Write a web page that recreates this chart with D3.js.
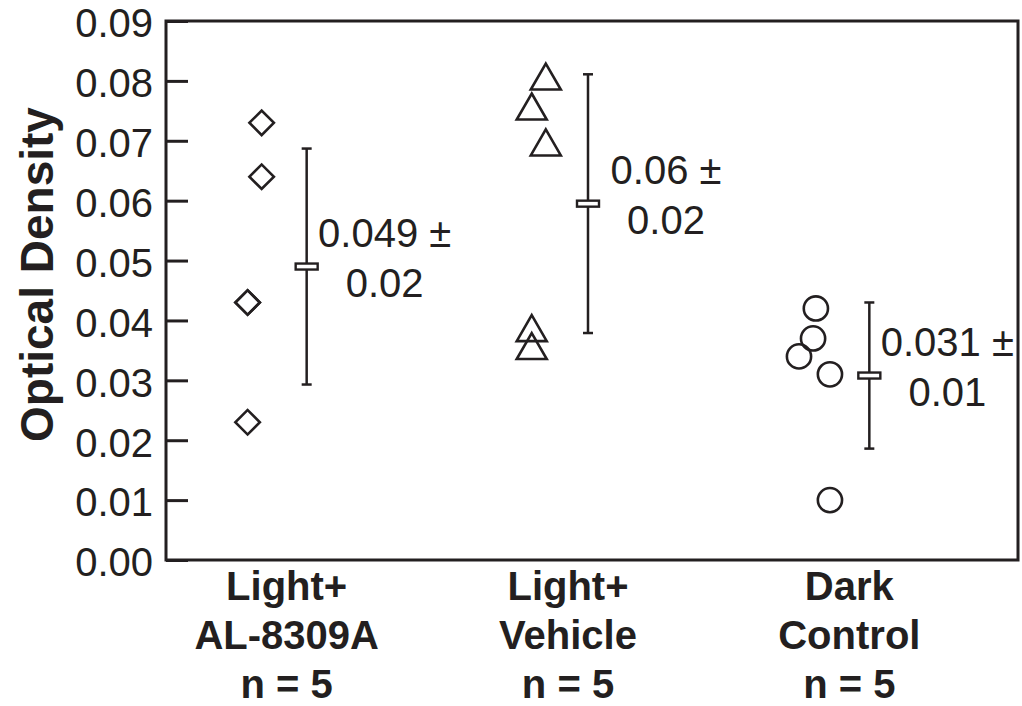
<!DOCTYPE html>
<html><head><meta charset="utf-8">
<script src="https://cdn.jsdelivr.net/npm/d3@7"></script>
<style>body{margin:0;background:#fff}svg{display:block}text{font-family:Arial,"Liberation Sans",sans-serif;fill:#231f20}</style>
</head><body><div id="chart"></div>
<script>
const groups = ["Light+ AL-8309A", "Light+ Vehicle", "Dark Control"];
const labelLines = [["Light+", "AL-8309A", "n = 5"], ["Light+", "Vehicle", "n = 5"], ["Dark", "Control", "n = 5"]];
const shapes = ["diamond", "triangle", "circle"];
const valuesAL = [0.073, 0.064, 0.043, 0.043, 0.023];
const jitterAL = [-0.16, -0.16, -0.21, -0.21, -0.21];
const valuesVeh = [0.080, 0.075, 0.069, 0.038, 0.035];
const jitterVeh = [-0.15, -0.20, -0.15, -0.20, -0.20];
const valuesDark = [0.042, 0.037, 0.034, 0.031, 0.010];
const jitterDark = [-0.19, -0.20, -0.25, -0.14, -0.14];
const means = [0.049, 0.0595, 0.0308];
const sds = [0.0197, 0.0216, 0.0122];
const meanLabels = [["0.049 \u00b1", "0.02"], ["0.06 \u00b1", "0.02"], ["0.031 \u00b1", "0.01"]];
const yTicks = [0, 0.01, 0.02, 0.03, 0.04, 0.05, 0.06, 0.07, 0.08, 0.09];
const yTitle = "Optical Density";

const W = 1022, H = 706;
const m = {left: 166, top: 21, right: 4, bottom: 146};
const pw = W - m.left - m.right, ph = H - m.top - m.bottom;
const ink = "#231f20";

const svg = d3.select("#chart").append("svg").attr("width", W).attr("height", H);
const g = svg.append("g").attr("transform", `translate(${m.left},${m.top})`);

const x = d3.scalePoint().domain(groups).range([0, pw - 8]).padding(0.5);
const step = x.step();
const y = d3.scaleLinear().domain([0, 0.09]).range([ph, 0]);

// axis
const yAxis = d3.axisLeft(y).tickValues(yTicks).tickFormat(d3.format(".2f")).tickSizeInner(-22).tickSizeOuter(0).tickPadding(13);
const ya = g.append("g").call(yAxis);
ya.select(".domain").remove();
ya.selectAll(".tick line").attr("stroke", ink).attr("stroke-width", 3);
ya.selectAll(".tick text").attr("font-size", 40).attr("y", 3).style("fill", ink);

// frame
g.append("rect").attr("x", 0).attr("y", 0).attr("width", pw).attr("height", ph)
  .attr("fill", "none").attr("stroke", ink).attr("stroke-width", 3);

// y title
svg.append("text").attr("transform", `translate(53,${m.top + ph / 2 - 16}) rotate(-90)`)
  .attr("text-anchor", "middle").attr("font-size", 46).attr("font-weight", "bold").text(yTitle);

// x labels
groups.forEach((grp, i) => {
  const t = svg.append("text").attr("text-anchor", "middle").attr("font-size", 40).attr("font-weight", "bold");
  labelLines[i].forEach((ln, j) => {
    t.append("tspan").attr("x", m.left + x(grp) - 20).attr("y", m.top + ph + 40 + j * 49).text(ln);
  });
});

// points
const sets = [[valuesAL, jitterAL], [valuesVeh, jitterVeh], [valuesDark, jitterDark]];
const symbolFor = {
  diamond: d3.symbol().type(d3.symbolSquare).size(300),
  triangle: d3.symbol().type(d3.symbolTriangle).size(390),
  circle: d3.symbol().type(d3.symbolCircle).size(460)
};
sets.forEach(([vals, jit], i) => {
  const cx = x(groups[i]);
  g.selectAll(null).data(vals.map((v, k) => ({v, j: jit[k]}))).join("path")
    .attr("d", symbolFor[shapes[i]]())
    .attr("transform", d => `translate(${cx + d.j * step},${y(d.v)})` + (shapes[i] === "diamond" ? " rotate(45)" : ""))
    .attr("fill", "none").attr("stroke", ink).attr("stroke-width", 2.6);
});

// error bars
groups.forEach((grp, i) => {
  const cx = x(grp);
  const top = y(means[i] + sds[i]), bot = y(means[i] - sds[i]), my = y(means[i]);
  g.append("line").attr("x1", cx).attr("x2", cx).attr("y1", top).attr("y2", bot).attr("stroke", ink).attr("stroke-width", 2.5);
  [top, bot].forEach(yy => g.append("line").attr("x1", cx - 5).attr("x2", cx + 5).attr("y1", yy).attr("y2", yy).attr("stroke", ink).attr("stroke-width", 2.5));
  g.append("rect").attr("x", cx - 11).attr("y", my - 3).attr("width", 22).attr("height", 6)
    .attr("fill", "#fff").attr("stroke", ink).attr("stroke-width", 2.4);
  const t = g.append("text").attr("text-anchor", "middle").attr("font-size", 40);
  meanLabels[i].forEach((ln, j) => {
    t.append("tspan").attr("x", cx + 78).attr("y", my - 20 + j * 50).text(ln);
  });
});
</script></body></html>
